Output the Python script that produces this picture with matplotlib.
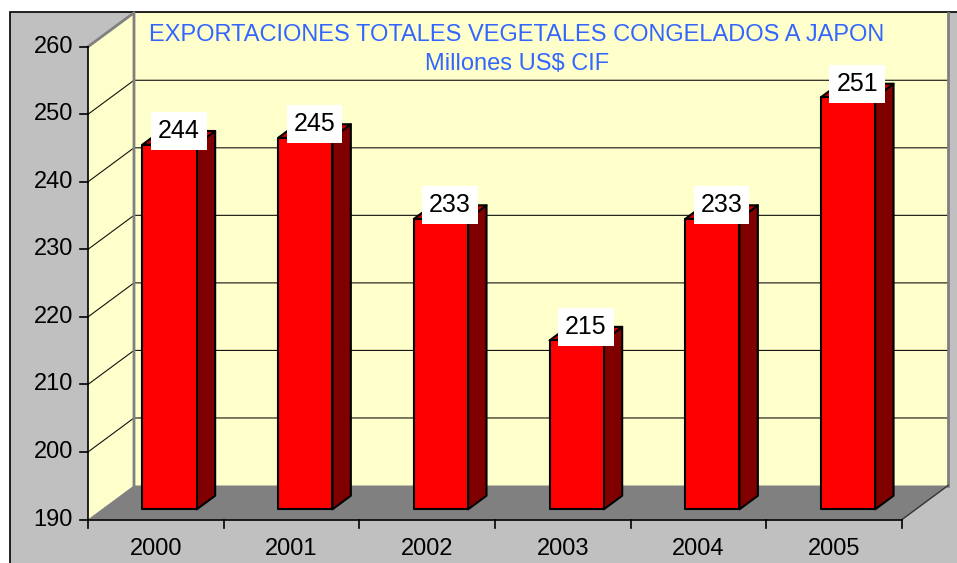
import matplotlib.pyplot as plt
from matplotlib.patches import Polygon, Rectangle

plt.rcParams['font.family'] = ['Liberation Sans', 'DejaVu Sans']

years = ["2000", "2001", "2002", "2003", "2004", "2005"]
values = [244, 245, 233, 215, 233, 251]
yticks = [190, 200, 210, 220, 230, 240, 250, 260]
title1 = "EXPORTACIONES TOTALES VEGETALES CONGELADOS A JAPON"
title2 = "Millones US$ CIF"

ymin, ymax = 190, 260
n = len(years)

# depth projection: back of the box is shifted right/up
DX = 0.339   # category units per full depth
DY = 5.034   # value units per full depth


def proj(x, v, d):
    return (x + DX * d, v + DY * d)


fig = plt.figure(figsize=(9.57, 5.63), dpi=100)
ax = fig.add_axes([0, 0, 1, 1])
ax.set_xlim(-0.6486, 6.405)
ax.set_ylim(183.56, 266.92)
ax.axis("off")

# chart area (gray, black border on top/left)
fig.patches.append(Rectangle((10 / 957, -0.05), 1.1, 1 - 12 / 563 + 0.05,
                             transform=fig.transFigure, fc="#C0C0C0",
                             ec="black", lw=1.2, zorder=-10))

wall = "#FFFFCC"
# left wall
ax.add_patch(Polygon([proj(0, ymin, 0), proj(0, ymax, 0), proj(0, ymax, 1), proj(0, ymin, 1)],
                     closed=True, fc=wall, ec="none", zorder=1))
# back wall
ax.add_patch(Polygon([proj(0, ymin, 1), proj(0, ymax, 1), proj(n, ymax, 1), proj(n, ymin, 1)],
                     closed=True, fc=wall, ec="none", zorder=1))

# gridlines
for v in yticks[1:-1]:
    p0, p1, p2 = proj(0, v, 0), proj(0, v, 1), proj(n, v, 1)
    ax.plot([p0[0], p1[0], p2[0]], [p0[1], p1[1], p2[1]], color="#111111", lw=0.8, zorder=2)

# wall edges
wl = [proj(0, ymax, 0), proj(0, ymax, 1), proj(0, ymin, 1)]
ax.plot([p[0] for p in wl], [p[1] for p in wl], color="#808080", lw=2, zorder=2)
wr = [proj(n, ymax, 1), proj(n, ymin, 1)]
ax.plot([p[0] for p in wr], [p[1] for p in wr], color="#808080", lw=2, zorder=2)

# floor
ax.add_patch(Polygon([proj(0, ymin, 0), proj(n, ymin, 0), proj(n, ymin, 1), proj(0, ymin, 1)],
                     closed=True, fc="#808080", ec="none", zorder=3))
fr = [proj(n, ymin, 0), proj(n, ymin, 1)]
ax.plot([p[0] for p in fr], [p[1] for p in fr], color="#333333", lw=1, zorder=3)

# bars
w0, w1 = 0.3, 0.7
d0, d1 = 0.3, 0.7
for i, v in enumerate(values):
    front = [proj(i + w0, ymin, d0), proj(i + w1, ymin, d0), proj(i + w1, v, d0), proj(i + w0, v, d0)]
    side = [proj(i + w1, ymin, d0), proj(i + w1, ymin, d1), proj(i + w1, v, d1), proj(i + w1, v, d0)]
    top = [proj(i + w0, v, d0), proj(i + w1, v, d0), proj(i + w1, v, d1), proj(i + w0, v, d1)]
    ax.add_patch(Polygon(side, closed=True, fc="#800000", ec="black", lw=1.5, zorder=4, joinstyle="round"))
    ax.add_patch(Polygon(top, closed=True, fc="#CC0000", ec="black", lw=1.5, zorder=4, joinstyle="round"))
    ax.add_patch(Polygon(front, closed=True, fc="#FF0000", ec="black", lw=1.5, zorder=5, joinstyle="round"))
    lx, ly = proj(i + 0.5, v, 0.5)
    ax.annotate(str(v), (lx, ly), xytext=(0, 5), textcoords="offset points",
                ha="center", va="center", fontsize=18, zorder=7,
                bbox=dict(boxstyle="square,pad=0.28", fc="white", ec="none"))

# value axis
tx = 8 / 135.67
ax.plot([0, 0], [ymin, ymax], color="black", lw=1.2, zorder=6)
for v in yticks:
    ax.plot([-tx, 0], [v, v], color="black", lw=1.2, zorder=6)
    ax.text(-0.11, v, str(v), ha="right", va="center", fontsize=17, zorder=6)

# category axis
ty = 8 / 6.754
ax.plot([0, n], [ymin, ymin], color="black", lw=1.2, zorder=6)
for i in range(n + 1):
    ax.plot([i, i], [ymin, ymin - ty], color="black", lw=1.2, zorder=6)
for i, yr in enumerate(years):
    ax.text(i + 0.5, ymin - 29 / 6.754, yr, ha="center", va="center", fontsize=17, zorder=6)

# title
fig.text(517 / 957, 1 - 35 / 563, title1, ha="center", va="center",
         fontsize=17, color="#3366FF", zorder=8)
fig.text(517 / 957, 1 - 64 / 563, title2, ha="center", va="center",
         fontsize=17, color="#3366FF", zorder=8)

fig.savefig("out.png", dpi=100)
plt.close(fig)
